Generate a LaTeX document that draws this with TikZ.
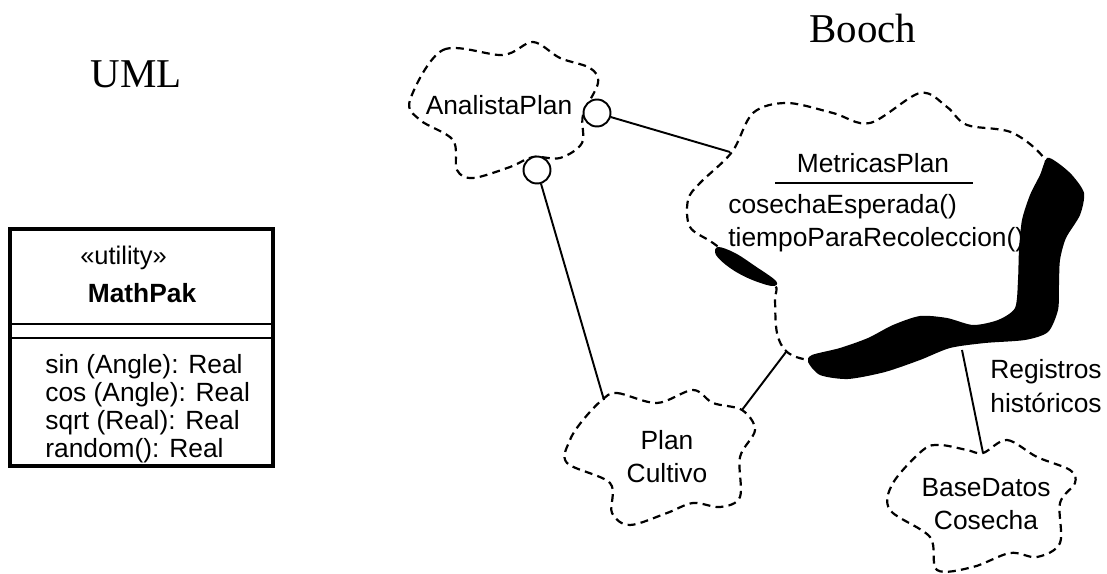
\documentclass[tikz,border=0pt]{standalone}
\usepackage{fontspec}
\setmainfont{Liberation Serif}
\setsansfont{Liberation Sans}
\usepackage{tikz}

\begin{document}
\begin{tikzpicture}[x=0.02cm, y=-0.02cm,
    cloudline/.style={dash pattern=on 4.5pt off 3pt, line width=1.25pt, line join=round},
    link/.style={line width=1.1pt},
    txt/.style={font=\sffamily\fontsize{15}{18.7}\selectfont, align=center, inner sep=0pt},
    ball/.style={circle, draw, line width=1.1pt, fill=white, minimum size=0.54cm, inner sep=0pt}]
    \useasboundingbox (0,0) rectangle (1107,574);

    % titles
    \node[font=\fontsize{23.3}{26}\selectfont, anchor=base, inner sep=0pt] (umltitle) at (136,88) {UML};
    \node[font=\fontsize{23.3}{26}\selectfont, anchor=base, inner sep=0pt] (boochtitle) at (863,43) {Booch};

    % UML utility class
    \draw[line width=2pt] (10,229) rectangle (273,466);
    \draw[line width=1.6pt] (10,324) -- (273,324);
    \draw[line width=1.6pt] (10,338) -- (273,338);
    \node[font=\sffamily\fontsize{14.5}{16}\selectfont, anchor=base, inner sep=0pt] (stereo) at (123.5,265) {«utility»};
    \node[font=\sffamily\bfseries\fontsize{15}{16}\selectfont, anchor=base, inner sep=0pt] (mathpak) at (142,303) {MathPak};
    \node[font=\sffamily\fontsize{15}{16}\selectfont, align=left, anchor=west, inner sep=0pt] (ops) at (45,409)
        {sin (Angle): Real\\cos (Angle): Real\\sqrt (Real): Real\\random(): Real};

    % Booch clouds
    \draw[cloudline] plot[smooth cycle, tension=0.55] coordinates {
        (410,100) (443,50) (503,55) (533,42) (560,58) (590,68) (598,83) (583,115)
        (582,143) (560,158) (533,157) (510,167) (473,178) (457,170) (453,140) (420,120)};
    \draw[cloudline] plot[smooth cycle, tension=0.55] coordinates {
        (732,152) (753,113) (787,103) (833,113) (870,123) (920,93) (947,107) (967,125)
        (1013,133) (1047,163) (1045,200) (1040,260) (1038,310) (980,335) (900,342)
        (850,358) (810,360) (787,352) (777,333) (775,300) (775,285) (750,270)
        (713,243) (690,227) (688,200) (700,183)};
    \draw[cloudline] plot[smooth cycle, tension=0.55] coordinates {
        (602,400) (617,393) (657,403) (693,390) (713,403) (742,410) (755,430) (740,457)
        (740,497) (720,507) (693,503) (667,513) (630,525) (612,513) (610,483) (567,463)
        (570,440) (583,420)};
    \draw[cloudline] plot[smooth cycle, tension=0.55] coordinates {
        (983,453) (1007,440) (1037,457) (1070,470) (1075,483) (1060,503) (1060,543)
        (1037,557) (1010,553) (973,567) (937,570) (930,537) (890,510) (893,483)
        (923,450) (940,445) (967,450)};

    % shadow of the class cloud
    \fill plot[smooth cycle, tension=0.45] coordinates {
        (1047,158) (1058,163) (1072,175) (1084,193) (1080,215) (1066,238) (1060,260)
        (1059,285) (1058,310) (1048,332) (1025,340) (985,343) (950,348) (920,360)
        (885,372) (848,379) (820,375) (808,362) (812,355) (840,348) (868,338)
        (893,325) (920,316) (947,318) (973,325) (998,320) (1015,308) (1018,280)
        (1019,250) (1022,220) (1030,195) (1040,175)};
    \fill plot[smooth cycle, tension=0.6] coordinates {
        (718,247) (735,253) (755,266) (776,281) (772,286) (750,279) (730,268) (716,255)};

    % texts
    \node[txt] (analista) at (499,105) {AnalistaPlan};
    \node[txt] (metname) at (873,163) {MetricasPlan};
    \draw[line width=1pt] (775,183) -- (973,183);
    \node[txt, align=left, anchor=west] (metops) at (728,223) {cosechaEsperada()\\tiempoParaRecoleccion()};
    \node[txt] (cultivo) at (667,457) {Plan\\Cultivo};
    \node[txt] (basedatos) at (986,504) {BaseDatos\\Cosecha};
    \node[txt, font=\sffamily\fontsize{15}{19.3}\selectfont] (registros) at (1046,386) {Registros\\históricos};

    % connection points
    \coordinate (metL) at (730,152);
    \coordinate (metB) at (786,352);
    \coordinate (metS) at (962,350);
    \coordinate (cultT) at (604,400);
    \coordinate (cultR) at (742,410);
    \coordinate (baseT) at (983,453);

    \node[ball] (ballR) at (597,113) {};
    \node[ball] (ballB) at (537,170) {};

    \draw[link] (ballR) -- (metL);
    \draw[link] (ballB) -- (cultT);
    \draw[link] (metB) -- (cultR);
    \draw[link] (metS) -- (baseT);
\end{tikzpicture}
\end{document}
